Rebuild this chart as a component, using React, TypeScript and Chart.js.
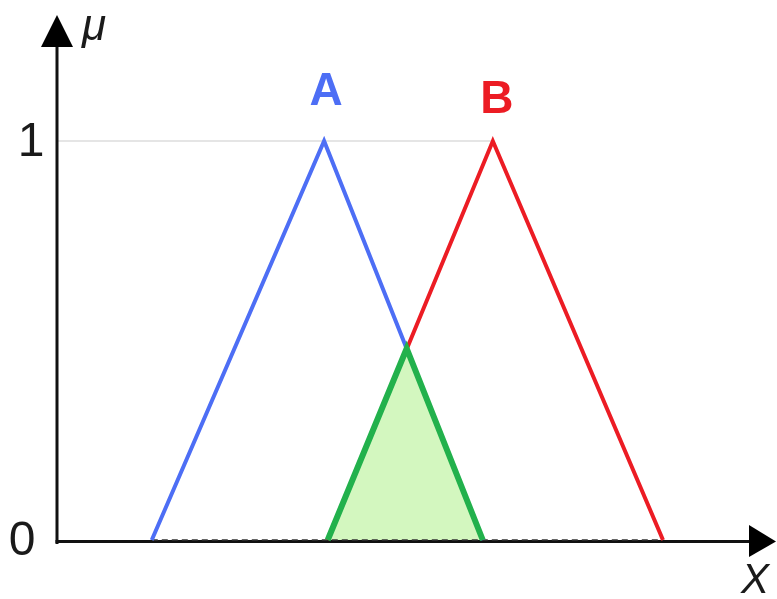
import React, { useEffect, useRef } from "react";
import { Chart, registerables } from "chart.js";

Chart.register(...registerables);

// Fuzzy set A (triangular membership): x breakpoints and membership degrees
const aX = [13.2, 37.2, 59.3];
const aMu = [0, 1, 0];
// Fuzzy set B
const bX = [37.7, 60.7, 84.4];
const bMu = [0, 1, 0];
// Intersection A ∩ B (min of both memberships)
const overlapX = [37.7, 48.7, 59.3];
const overlapMu = [0, 0.48, 0];
// Baseline of the supports (dashed, at μ = 0)
const supportX = [13.2, 84.4];
const supportMu = [0, 0];

const yTicks = [0, 1];
const yTickLabels = ["0", "1"];
const setLabels = ["A", "B"];

const BLUE = "#4d6ef5";
const RED = "#ec1c24";
const GREEN = "#22b14c";
const FILL = "#d3f7bf";

const toPoints = (xs: number[], ys: number[]) => xs.map((x, i) => ({ x, y: ys[i] }));

const axesPlugin = {
  id: "fuzzyAxes",
  beforeDatasetsDraw(chart: any) {
    const { ctx } = chart;
    const xs = chart.scales.x;
    const ys = chart.scales.y;
    const x0 = xs.getPixelForValue(0);
    const y0 = ys.getPixelForValue(0);
    const right = chart.width - 1;
    const top = chart.chartArea.top;
    ctx.save();

    // reference line at μ = 1 up to the peak of B
    const y1 = ys.getPixelForValue(1);
    ctx.strokeStyle = "#dcdcdc";
    ctx.lineWidth = 1.5;
    ctx.beginPath();
    ctx.moveTo(x0, y1);
    ctx.lineTo(xs.getPixelForValue(bX[1]), y1);
    ctx.stroke();

    ctx.strokeStyle = "#111";
    ctx.fillStyle = "#000";
    ctx.lineWidth = 3;
    // x axis
    ctx.beginPath();
    ctx.moveTo(x0 - 1.5, y0 + 1.5);
    ctx.lineTo(right - 20, y0 + 1.5);
    ctx.stroke();
    ctx.beginPath();
    ctx.moveTo(right, y0 + 1.5);
    ctx.lineTo(right - 27, y0 - 15);
    ctx.lineTo(right - 27, y0 + 17);
    ctx.closePath();
    ctx.fill();
    // y axis
    ctx.beginPath();
    ctx.moveTo(x0, y0 + 4);
    ctx.lineTo(x0, top + 25);
    ctx.stroke();
    ctx.beginPath();
    ctx.moveTo(x0, top);
    ctx.lineTo(x0 - 16, top + 32);
    ctx.lineTo(x0 + 16, top + 32);
    ctx.closePath();
    ctx.fill();
    ctx.restore();
  },
  afterDraw(chart: any) {
    const { ctx } = chart;
    const xs = chart.scales.x;
    const ys = chart.scales.y;
    const x0 = xs.getPixelForValue(0);
    ctx.save();
    ctx.fillStyle = "#1a1a1a";
    ctx.textAlign = "center";
    ctx.textBaseline = "alphabetic";
    ctx.font = "48px 'Liberation Sans', Arial, sans-serif";
    yTicks.forEach((v, i) => {
      const shift = yTickLabels[i] === "1" ? 4 : -5;
      ctx.fillText(yTickLabels[i], x0 - 30 + shift, ys.getPixelForValue(v) + 15);
    });

    // axis names
    ctx.font = "italic 44px 'Liberation Sans', Arial, sans-serif";
    ctx.textAlign = "left";
    ctx.fillText("μ", x0 + 25, chart.chartArea.top + 25);
    ctx.font = "italic 42px 'Liberation Sans', Arial, sans-serif";
    ctx.fillText("X", chart.width - 36, ys.getPixelForValue(0) + 53);

    // set names above their peaks
    ctx.font = "bold 46px 'Liberation Sans', Arial, sans-serif";
    ctx.textAlign = "center";
    ctx.fillStyle = BLUE;
    ctx.fillText(setLabels[0], xs.getPixelForValue(aX[1]) + 2, ys.getPixelForValue(1) - 36);
    ctx.fillStyle = RED;
    ctx.fillText(setLabels[1], xs.getPixelForValue(bX[1]) + 4, ys.getPixelForValue(1) - 28);
    ctx.restore();
  },
};

export default function App() {
  const ref = useRef<HTMLCanvasElement>(null);

  useEffect(() => {
    if (!ref.current) return;
    const chart = new Chart(ref.current, {
      type: "scatter",
      data: {
        datasets: [
          {
            label: "A ∩ B",
            data: toPoints(overlapX, overlapMu),
            showLine: true,
            borderColor: GREEN,
            borderWidth: 6,
            backgroundColor: FILL,
            fill: "origin",
            pointRadius: 0,
            tension: 0,
            clip: false,
          },
          {
            label: "A",
            data: toPoints(aX, aMu),
            showLine: true,
            borderColor: BLUE,
            borderWidth: 4,
            pointRadius: 0,
            fill: false,
            clip: false,
          },
          {
            label: "B",
            data: toPoints(bX, bMu),
            showLine: true,
            borderColor: RED,
            borderWidth: 4,
            pointRadius: 0,
            fill: false,
            clip: false,
          },
          {
            label: "support",
            data: toPoints(supportX, supportMu),
            showLine: true,
            borderColor: "#333",
            borderWidth: 1.5,
            borderDash: [6, 4],
            pointRadius: 0,
            fill: false,
            clip: false,
          },
        ],
      },
      options: {
        responsive: false,
        animation: false,
        devicePixelRatio: 1,
        layout: { padding: { left: 57, right: 2, top: 15, bottom: 59 } },
        scales: {
          x: { type: "linear", min: 0, max: 100, display: false },
          y: { type: "linear", min: 0, max: 1.316, display: false },
        },
        plugins: {
          legend: { display: false },
          tooltip: { enabled: false },
          filler: { drawTime: "beforeDatasetsDraw" },
        },
      },
      plugins: [axesPlugin],
    });
    return () => chart.destroy();
  }, []);

  return (
    <div style={{ position: "absolute", left: 0, top: 0, width: 777, height: 599, background: "#fff" }}>
      <canvas ref={ref} width={777} height={599} />
    </div>
  );
}
